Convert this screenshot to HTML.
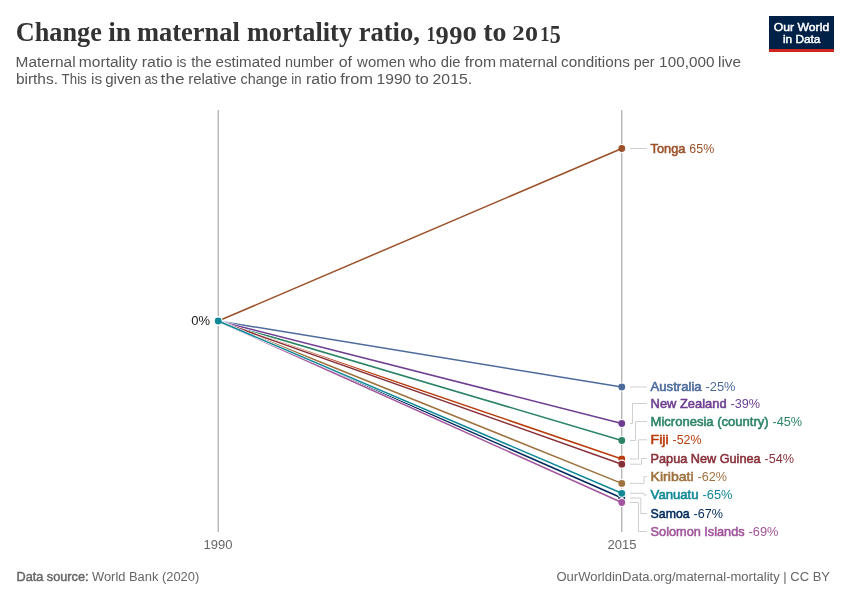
<!DOCTYPE html>
<html><head><meta charset="utf-8">
<style>
html,body{margin:0;padding:0;background:#fff;width:850px;height:600px;overflow:hidden}
svg{display:block;will-change:transform}
text{font-family:"Liberation Sans",sans-serif}
.serif{font-family:"Liberation Serif",serif}
</style></head><body>
<svg width="850" height="600" viewBox="0 0 850 600">
<rect width="850" height="600" fill="#fff"/>
<g class="serif" font-weight="bold" fill="#333">
<text class="serif" x="15.82" y="40.6" font-size="28" textLength="86.06" lengthAdjust="spacingAndGlyphs">Change</text>
<text class="serif" x="108.2" y="40.6" font-size="28" textLength="22.82" lengthAdjust="spacingAndGlyphs">in</text>
<text class="serif" x="136.89" y="40.6" font-size="28" textLength="102.96" lengthAdjust="spacingAndGlyphs">maternal</text>
<text class="serif" x="246.89" y="40.6" font-size="28" textLength="105.16" lengthAdjust="spacingAndGlyphs">mortality</text>
<text class="serif" x="358.69" y="40.6" font-size="28" textLength="61.12" lengthAdjust="spacingAndGlyphs">ratio,</text>
<text class="serif" x="483.25" y="40.8" font-size="28" textLength="23.21" lengthAdjust="spacingAndGlyphs">to</text>
<text class="serif" x="426.8" y="40.6" font-size="20.2" textLength="8.6" lengthAdjust="spacingAndGlyphs">1</text>
<text class="serif" x="435.6" y="43.9" font-size="25" textLength="13.2" lengthAdjust="spacingAndGlyphs">9</text>
<text class="serif" x="449.3" y="43.9" font-size="25" textLength="13.2" lengthAdjust="spacingAndGlyphs">9</text>
<text class="serif" x="462.4" y="40.6" font-size="29.6" textLength="14.4" lengthAdjust="spacingAndGlyphs">o</text>
<text class="serif" x="512.2" y="40.4" font-size="20.2" textLength="12.4" lengthAdjust="spacingAndGlyphs">2</text>
<text class="serif" x="524.9" y="40.6" font-size="29.6" textLength="13.0" lengthAdjust="spacingAndGlyphs">o</text>
<text class="serif" x="540.3" y="40.6" font-size="20.2" textLength="9.2" lengthAdjust="spacingAndGlyphs">1</text>
<text class="serif" x="549.8" y="43.4" font-size="25.5" textLength="11.0" lengthAdjust="spacingAndGlyphs">5</text>
</g>
<g font-size="14" fill="#555">
<text x="15.64" y="66.5" textLength="60.0" lengthAdjust="spacingAndGlyphs">Maternal</text>
<text x="78.87" y="66.5" textLength="58.76" lengthAdjust="spacingAndGlyphs">mortality</text>
<text x="141.85" y="66.5" textLength="30.82" lengthAdjust="spacingAndGlyphs">ratio</text>
<text x="176.38" y="66.5" textLength="9.91" lengthAdjust="spacingAndGlyphs">is</text>
<text x="191.18" y="66.5" textLength="20.48" lengthAdjust="spacingAndGlyphs">the</text>
<text x="215.56" y="66.5" textLength="65.52" lengthAdjust="spacingAndGlyphs">estimated</text>
<text x="284.94" y="66.5" textLength="48.9" lengthAdjust="spacingAndGlyphs">number</text>
<text x="338.73" y="66.5" textLength="13.35" lengthAdjust="spacingAndGlyphs">of</text>
<text x="357.12" y="66.5" textLength="48.15" lengthAdjust="spacingAndGlyphs">women</text>
<text x="409.02" y="66.5" textLength="27.1" lengthAdjust="spacingAndGlyphs">who</text>
<text x="440.78" y="66.5" textLength="19.67" lengthAdjust="spacingAndGlyphs">die</text>
<text x="464.68" y="66.5" textLength="31.46" lengthAdjust="spacingAndGlyphs">from</text>
<text x="499.31" y="66.5" textLength="58.09" lengthAdjust="spacingAndGlyphs">maternal</text>
<text x="561.05" y="66.5" textLength="68.8" lengthAdjust="spacingAndGlyphs">conditions</text>
<text x="633.67" y="66.5" textLength="20.76" lengthAdjust="spacingAndGlyphs">per</text>
<text x="659.14" y="66.5" textLength="55.26" lengthAdjust="spacingAndGlyphs">100,000</text>
<text x="718.07" y="66.5" textLength="22.91" lengthAdjust="spacingAndGlyphs">live</text>
<text x="15.9" y="84.3" textLength="42.11" lengthAdjust="spacingAndGlyphs">births.</text>
<text x="61.6" y="84.3" textLength="25.18" lengthAdjust="spacingAndGlyphs">This</text>
<text x="91.07" y="84.3" textLength="11.08" lengthAdjust="spacingAndGlyphs">is</text>
<text x="105.17" y="84.3" textLength="36.12" lengthAdjust="spacingAndGlyphs">given</text>
<text x="144.47" y="84.3" textLength="13.18" lengthAdjust="spacingAndGlyphs">as</text>
<text x="160.64" y="84.3" textLength="23.82" lengthAdjust="spacingAndGlyphs">the</text>
<text x="188.21" y="84.3" textLength="48.26" lengthAdjust="spacingAndGlyphs">relative</text>
<text x="240.49" y="84.3" textLength="47.05" lengthAdjust="spacingAndGlyphs">change</text>
<text x="291.32" y="84.3" textLength="10.23" lengthAdjust="spacingAndGlyphs">in</text>
<text x="306.05" y="84.3" textLength="30.82" lengthAdjust="spacingAndGlyphs">ratio</text>
<text x="340.17" y="84.3" textLength="32.92" lengthAdjust="spacingAndGlyphs">from</text>
<text x="376.62" y="84.3" textLength="34.59" lengthAdjust="spacingAndGlyphs">1990</text>
<text x="415.15" y="84.3" textLength="13.63" lengthAdjust="spacingAndGlyphs">to</text>
<text x="432.61" y="84.3" textLength="39.43" lengthAdjust="spacingAndGlyphs">2015.</text>
</g>
<rect x="769" y="16" width="65" height="36" fill="#002147"/>
<rect x="769" y="49" width="65" height="3" fill="#ce261e"/>
<text x="773.8" y="30.6" font-size="11.3" font-weight="normal" fill="#fff" stroke="#fff" stroke-width="0.45" textLength="55.4" lengthAdjust="spacingAndGlyphs">Our World</text>
<text x="783" y="42.5" font-size="11.3" font-weight="normal" fill="#fff" stroke="#fff" stroke-width="0.45" textLength="37.4" lengthAdjust="spacingAndGlyphs">in Data</text>
<line x1="218.2" y1="110" x2="218.2" y2="532" stroke="#999" stroke-width="1"/>
<line x1="621.8" y1="110" x2="621.8" y2="532" stroke="#999" stroke-width="1"/>
<text x="218" y="548.8" font-size="13" fill="#666" text-anchor="middle">1990</text>
<text x="622" y="548.8" font-size="13" fill="#666" text-anchor="middle">2015</text>
<text x="210" y="325" font-size="13" fill="#222" text-anchor="end">0%</text>
<g stroke="#d0d0d0" stroke-width="1" fill="none">
<polyline points="630,387.0 647,387.0"/>
<polyline points="630,459.0 638.5,459.0 638.5,439.8 647,439.8"/>
<polyline points="630,483.4 644.0,483.4 644.0,476.5 647,476.5"/>
<polyline points="630,440.5 635.5,440.5 635.5,421.5 647,421.5"/>
<polyline points="630,423.5 632.5,423.5 632.5,403.5 647,403.5"/>
<polyline points="630,464.2 641.5,464.2 641.5,458.5 647,458.5"/>
<polyline points="630,498.0 640.8,498.0 640.8,513.5 647,513.5"/>
<polyline points="630,502.5 638.5,502.5 638.5,531.5 647,531.5"/>
<polyline points="630,148.5 647,148.5"/>
<polyline points="630,493.3 644.0,493.3 644.0,495.0 647,495.0"/>
</g>
<line x1="218.2" y1="321.0" x2="621.8" y2="387.0" stroke="#fff" stroke-width="2.6"/>
<circle cx="218.2" cy="321.0" r="4.0" fill="#4C6A9C" stroke="#fff" stroke-width="1.2"/>
<circle cx="621.8" cy="387.0" r="4.0" fill="#4C6A9C" stroke="#fff" stroke-width="1.2"/>
<line x1="218.2" y1="321.0" x2="621.8" y2="387.0" stroke="#4C6A9C" stroke-width="1.5"/>
<line x1="218.2" y1="321.0" x2="621.8" y2="459.0" stroke="#fff" stroke-width="2.6"/>
<circle cx="218.2" cy="321.0" r="4.0" fill="#B83C0C" stroke="#fff" stroke-width="1.2"/>
<circle cx="621.8" cy="459.0" r="4.0" fill="#B83C0C" stroke="#fff" stroke-width="1.2"/>
<line x1="218.2" y1="321.0" x2="621.8" y2="459.0" stroke="#B83C0C" stroke-width="1.5"/>
<line x1="218.2" y1="321.0" x2="621.8" y2="483.4" stroke="#fff" stroke-width="2.6"/>
<circle cx="218.2" cy="321.0" r="4.0" fill="#9E723E" stroke="#fff" stroke-width="1.2"/>
<circle cx="621.8" cy="483.4" r="4.0" fill="#9E723E" stroke="#fff" stroke-width="1.2"/>
<line x1="218.2" y1="321.0" x2="621.8" y2="483.4" stroke="#9E723E" stroke-width="1.5"/>
<line x1="218.2" y1="321.0" x2="621.8" y2="440.5" stroke="#fff" stroke-width="2.6"/>
<circle cx="218.2" cy="321.0" r="4.0" fill="#2C8465" stroke="#fff" stroke-width="1.2"/>
<circle cx="621.8" cy="440.5" r="4.0" fill="#2C8465" stroke="#fff" stroke-width="1.2"/>
<line x1="218.2" y1="321.0" x2="621.8" y2="440.5" stroke="#2C8465" stroke-width="1.5"/>
<line x1="218.2" y1="321.0" x2="621.8" y2="423.5" stroke="#fff" stroke-width="2.6"/>
<circle cx="218.2" cy="321.0" r="4.0" fill="#6D3E91" stroke="#fff" stroke-width="1.2"/>
<circle cx="621.8" cy="423.5" r="4.0" fill="#6D3E91" stroke="#fff" stroke-width="1.2"/>
<line x1="218.2" y1="321.0" x2="621.8" y2="423.5" stroke="#6D3E91" stroke-width="1.5"/>
<line x1="218.2" y1="321.0" x2="621.8" y2="464.2" stroke="#fff" stroke-width="2.6"/>
<circle cx="218.2" cy="321.0" r="4.0" fill="#883039" stroke="#fff" stroke-width="1.2"/>
<circle cx="621.8" cy="464.2" r="4.0" fill="#883039" stroke="#fff" stroke-width="1.2"/>
<line x1="218.2" y1="321.0" x2="621.8" y2="464.2" stroke="#883039" stroke-width="1.5"/>
<line x1="218.2" y1="321.0" x2="621.8" y2="498.0" stroke="#fff" stroke-width="2.6"/>
<circle cx="218.2" cy="321.0" r="4.0" fill="#00295B" stroke="#fff" stroke-width="1.2"/>
<circle cx="621.8" cy="498.0" r="4.0" fill="#00295B" stroke="#fff" stroke-width="1.2"/>
<line x1="218.2" y1="321.0" x2="621.8" y2="498.0" stroke="#00295B" stroke-width="1.5"/>
<line x1="218.2" y1="321.0" x2="621.8" y2="502.5" stroke="#fff" stroke-width="2.6"/>
<circle cx="218.2" cy="321.0" r="4.0" fill="#A2559C" stroke="#fff" stroke-width="1.2"/>
<circle cx="621.8" cy="502.5" r="4.0" fill="#A2559C" stroke="#fff" stroke-width="1.2"/>
<line x1="218.2" y1="321.0" x2="621.8" y2="502.5" stroke="#A2559C" stroke-width="1.5"/>
<line x1="218.2" y1="321.0" x2="621.8" y2="148.5" stroke="#fff" stroke-width="2.6"/>
<circle cx="218.2" cy="321.0" r="4.0" fill="#9A5129" stroke="#fff" stroke-width="1.2"/>
<circle cx="621.8" cy="148.5" r="4.0" fill="#9A5129" stroke="#fff" stroke-width="1.2"/>
<line x1="218.2" y1="321.0" x2="621.8" y2="148.5" stroke="#9A5129" stroke-width="1.5"/>
<line x1="218.2" y1="321.0" x2="621.8" y2="493.3" stroke="#fff" stroke-width="2.6"/>
<circle cx="218.2" cy="321.0" r="4.0" fill="#0E8796" stroke="#fff" stroke-width="1.2"/>
<circle cx="621.8" cy="493.3" r="4.0" fill="#0E8796" stroke="#fff" stroke-width="1.2"/>
<line x1="218.2" y1="321.0" x2="621.8" y2="493.3" stroke="#0E8796" stroke-width="1.5"/>
<g font-size="12.8">
<text x="650.6" y="391.4" fill="#4C6A9C" font-weight="normal" stroke="#4C6A9C" stroke-width="0.55" textLength="51.0" lengthAdjust="spacingAndGlyphs">Australia</text>
<text x="705.5" y="391.4" fill="#4C6A9C" textLength="30.0" lengthAdjust="spacingAndGlyphs">-25%</text>
<text x="650.6" y="444.2" fill="#B83C0C" font-weight="normal" stroke="#B83C0C" stroke-width="0.55" textLength="18.0" lengthAdjust="spacingAndGlyphs">Fiji</text>
<text x="672.5" y="444.2" fill="#B83C0C" textLength="29.0" lengthAdjust="spacingAndGlyphs">-52%</text>
<text x="650.6" y="480.9" fill="#9E723E" font-weight="normal" stroke="#9E723E" stroke-width="0.55" textLength="43.0" lengthAdjust="spacingAndGlyphs">Kiribati</text>
<text x="697.5" y="480.9" fill="#9E723E" textLength="29.4" lengthAdjust="spacingAndGlyphs">-62%</text>
<text x="650.6" y="425.9" fill="#2C8465" font-weight="normal" stroke="#2C8465" stroke-width="0.55" textLength="118.0" lengthAdjust="spacingAndGlyphs">Micronesia (country)</text>
<text x="772.5" y="425.9" fill="#2C8465" textLength="29.6" lengthAdjust="spacingAndGlyphs">-45%</text>
<text x="650.6" y="407.9" fill="#6D3E91" font-weight="normal" stroke="#6D3E91" stroke-width="0.55" textLength="76.0" lengthAdjust="spacingAndGlyphs">New Zealand</text>
<text x="730.5" y="407.9" fill="#6D3E91" textLength="29.6" lengthAdjust="spacingAndGlyphs">-39%</text>
<text x="650.6" y="462.9" fill="#883039" font-weight="normal" stroke="#883039" stroke-width="0.55" textLength="110.0" lengthAdjust="spacingAndGlyphs">Papua New Guinea</text>
<text x="764.5" y="462.9" fill="#883039" textLength="29.6" lengthAdjust="spacingAndGlyphs">-54%</text>
<text x="650.6" y="517.9" fill="#00295B" font-weight="normal" stroke="#00295B" stroke-width="0.55" textLength="39.0" lengthAdjust="spacingAndGlyphs">Samoa</text>
<text x="693.5" y="517.9" fill="#00295B" textLength="29.4" lengthAdjust="spacingAndGlyphs">-67%</text>
<text x="650.6" y="535.9" fill="#A2559C" font-weight="normal" stroke="#A2559C" stroke-width="0.55" textLength="94.0" lengthAdjust="spacingAndGlyphs">Solomon Islands</text>
<text x="748.5" y="535.9" fill="#A2559C" textLength="30.0" lengthAdjust="spacingAndGlyphs">-69%</text>
<text x="650.6" y="152.9" fill="#9A5129" font-weight="normal" stroke="#9A5129" stroke-width="0.55" textLength="34.8" lengthAdjust="spacingAndGlyphs">Tonga</text>
<text x="689.3" y="152.9" fill="#9A5129" textLength="24.9" lengthAdjust="spacingAndGlyphs">65%</text>
<text x="650.6" y="499.4" fill="#0E8796" font-weight="normal" stroke="#0E8796" stroke-width="0.55" textLength="48.0" lengthAdjust="spacingAndGlyphs">Vanuatu</text>
<text x="702.5" y="499.4" fill="#0E8796" textLength="30.0" lengthAdjust="spacingAndGlyphs">-65%</text>
</g>
<text x="16.5" y="580.5" font-size="12.4" fill="#666" stroke="#666" stroke-width="0.45" textLength="72" lengthAdjust="spacingAndGlyphs">Data source:</text>
<text x="92" y="580.5" font-size="12.3" fill="#666" textLength="107.2" lengthAdjust="spacingAndGlyphs">World Bank (2020)</text>
<text x="556.5" y="580.5" font-size="12.3" fill="#666" textLength="273.5" lengthAdjust="spacingAndGlyphs">OurWorldinData.org/maternal-mortality | CC BY</text>
</svg>
</body></html>
